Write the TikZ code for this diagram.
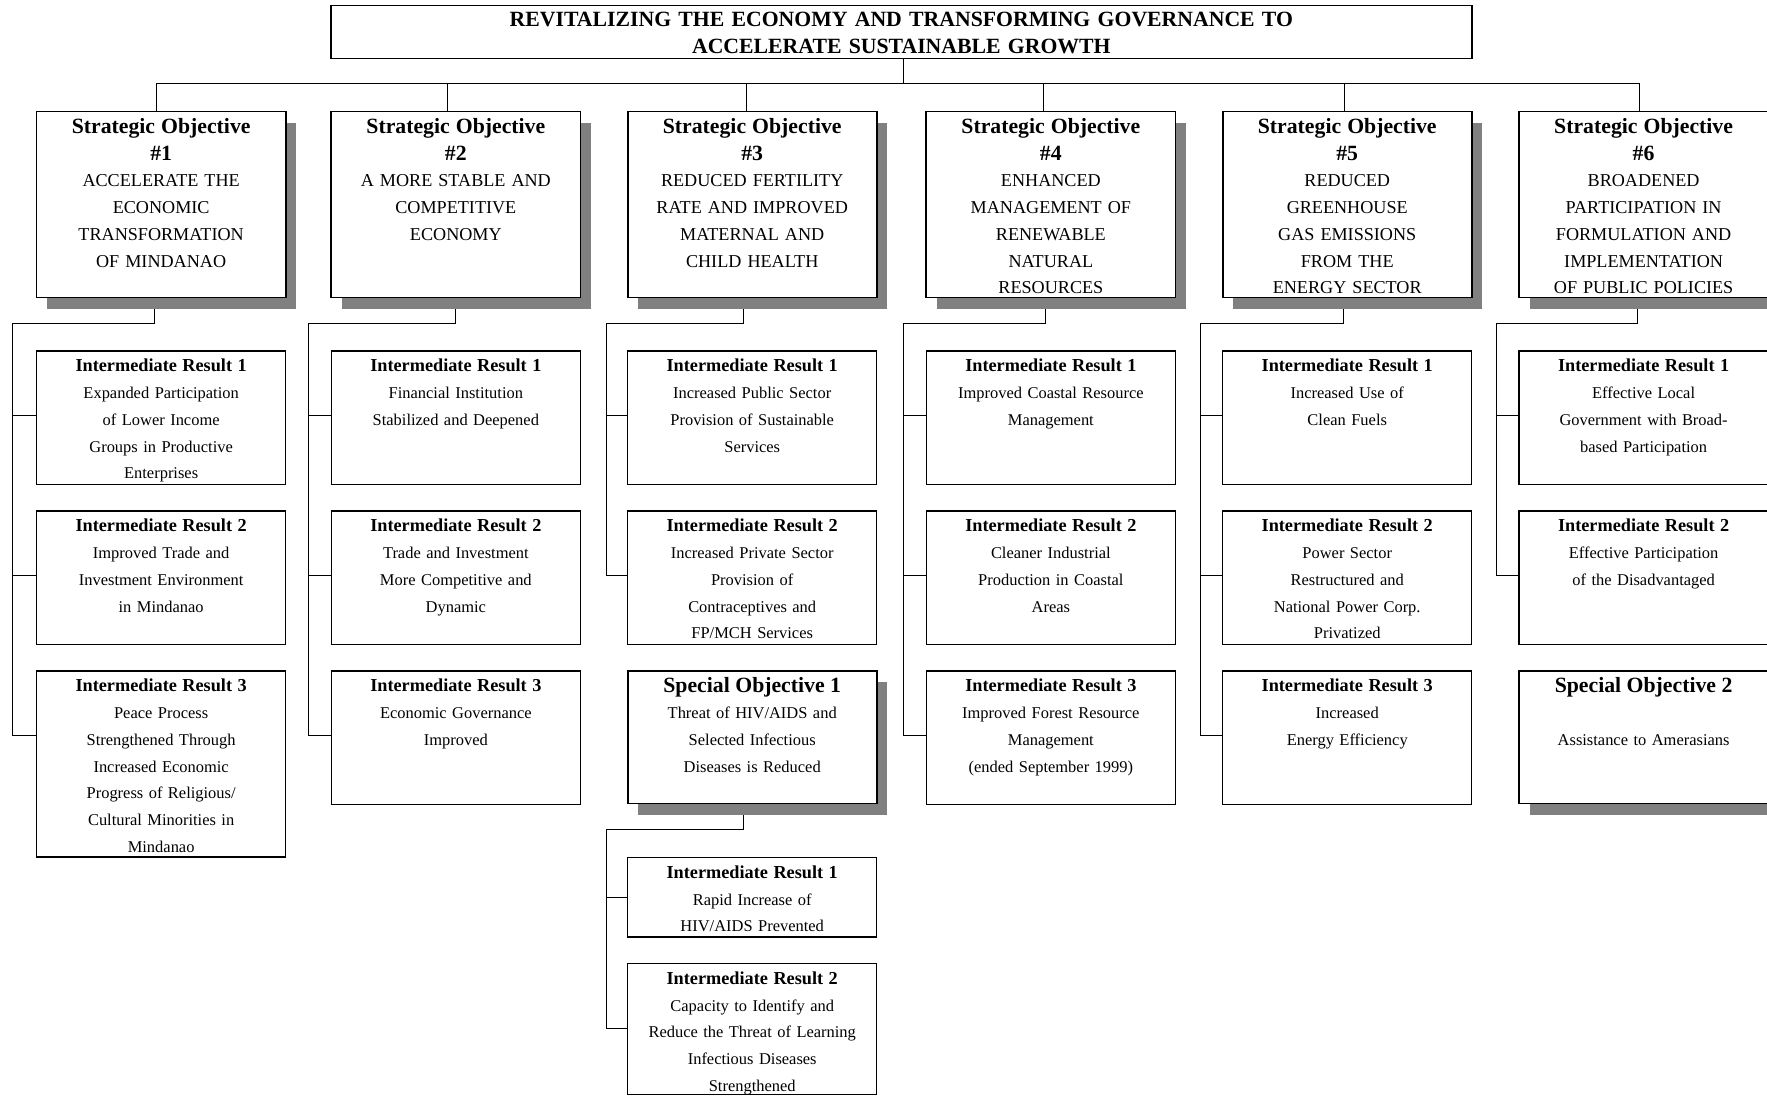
\documentclass[tikz,border=0pt]{standalone}
\usepackage{fontspec}
\setmainfont{Liberation Serif}
\usetikzlibrary{shadows}
\pgfdeclarelayer{background}
\pgfsetlayers{background,main}
\definecolor{shade}{HTML}{808080}
\newcommand\firstln{\rule{0pt}{14pt}}
\newcommand\hdA[1]{{\fontsize{19.3}{23.7}\selectfont\bfseries #1}}
\newcommand\hdB[1]{{\fontsize{16.2}{23.7}\selectfont\bfseries #1}}
\tikzset{
  box/.style={draw, fill=white, inner sep=0pt, outer sep=0pt, anchor=north west},
  sobox/.style={box, line width=1.5pt, minimum width=221pt,
    drop shadow={shadow xshift=9.5pt, shadow yshift=-10pt, fill=shade, opacity=1}},
  irbox/.style={box, line width=1.2pt, minimum width=221pt},
  txt/.style={anchor=north, inner sep=0pt, outer sep=0pt, align=center, text width=215pt,
    font=\fontsize{14.6}{23.7}\selectfont},
  sotxt/.style={txt, font=\fontsize{16.1}{23.7}\selectfont},
  conn/.style={line width=0.9pt},
}
\begin{document}
\begin{tikzpicture}[x=1pt,y=-1pt]
\begin{pgfonlayer}{background}
\fill[white] (0,0) rectangle (1568,973);
\end{pgfonlayer}
\useasboundingbox (0,0) rectangle (1568,973);

% title
\node[box, line width=1.5pt, minimum width=1012.3pt, minimum height=46.8pt] (title) at (293.7,5) {};
\node[txt, text width=1000pt, font=\fontsize{19.3}{23.7}\selectfont\bfseries] (titlet) at ([yshift=-4.4pt]title.north)
  {\firstln REVITALIZING THE ECONOMY AND TRANSFORMING GOVERNANCE TO\\ACCELERATE SUSTAINABLE GROWTH};

% strategic objectives
\node[sobox, minimum height=165pt] (so1) at (32.5,99) {};
\node[sobox, minimum height=165pt] (so2) at (294,99) {};
\node[sobox, minimum height=165pt] (so3) at (557,99) {};
\node[sobox, minimum height=165pt] (so4) at (822,99) {};
\node[sobox, minimum height=165pt] (so5) at (1085,99) {};
\node[sobox, minimum height=165pt] (so6) at (1348,99) {};

\node[sotxt] (so1t) at ([yshift=-5.5pt]so1.north) {\firstln\hdA{Strategic Objective}\\\hdA{\#1}\\ACCELERATE THE\\ECONOMIC\\TRANSFORMATION\\OF MINDANAO};
\node[sotxt] (so2t) at ([yshift=-5.5pt]so2.north) {\firstln\hdA{Strategic Objective}\\\hdA{\#2}\\A MORE STABLE AND\\COMPETITIVE\\ECONOMY};
\node[sotxt] (so3t) at ([yshift=-5.5pt]so3.north) {\firstln\hdA{Strategic Objective}\\\hdA{\#3}\\REDUCED FERTILITY\\RATE AND IMPROVED\\MATERNAL AND\\CHILD HEALTH};
\node[sotxt] (so4t) at ([yshift=-5.5pt]so4.north) {\firstln\hdA{Strategic Objective}\\\hdA{\#4}\\ENHANCED\\MANAGEMENT OF\\RENEWABLE\\NATURAL\\RESOURCES};
\node[sotxt] (so5t) at ([yshift=-5.5pt]so5.north) {\firstln\hdA{Strategic Objective}\\\hdA{\#5}\\REDUCED\\GREENHOUSE\\GAS EMISSIONS\\FROM THE\\ENERGY SECTOR};
\node[sotxt] (so6t) at ([yshift=-5.5pt]so6.north) {\firstln\hdA{Strategic Objective}\\\hdA{\#6}\\BROADENED\\PARTICIPATION IN\\FORMULATION AND\\IMPLEMENTATION\\OF PUBLIC POLICIES};

% column 1
\node[irbox, minimum height=118.5pt] (ir11) at (32.5,311.5) {};
\node[irbox, minimum height=118.5pt] (ir12) at (32.5,453.5) {};
\node[irbox, minimum height=165pt] (ir13) at (32.5,595.5) {};
\node[txt] (ir11t) at ([yshift=-4.5pt]ir11.north) {\firstln\hdB{Intermediate Result 1}\\Expanded Participation\\of Lower Income\\Groups in Productive\\Enterprises};
\node[txt] (ir12t) at ([yshift=-4.5pt]ir12.north) {\firstln\hdB{Intermediate Result 2}\\Improved Trade and\\Investment Environment\\in Mindanao};
\node[txt] (ir13t) at ([yshift=-4.5pt]ir13.north) {\firstln\hdB{Intermediate Result 3}\\Peace Process\\Strengthened Through\\Increased Economic\\Progress of Religious/\\Cultural Minorities in\\Mindanao};

% column 2
\node[irbox, minimum height=118.5pt] (ir21) at (294,311.5) {};
\node[irbox, minimum height=118.5pt] (ir22) at (294,453.5) {};
\node[irbox, minimum height=118.5pt] (ir23) at (294,595.5) {};
\node[txt] (ir21t) at ([yshift=-4.5pt]ir21.north) {\firstln\hdB{Intermediate Result 1}\\Financial Institution\\Stabilized and Deepened};
\node[txt] (ir22t) at ([yshift=-4.5pt]ir22.north) {\firstln\hdB{Intermediate Result 2}\\Trade and Investment\\More Competitive and\\Dynamic};
\node[txt] (ir23t) at ([yshift=-4.5pt]ir23.north) {\firstln\hdB{Intermediate Result 3}\\Economic Governance\\Improved};

% column 3
\node[irbox, minimum height=118.5pt] (ir31) at (557,311.5) {};
\node[irbox, minimum height=118.5pt] (ir32) at (557,453.5) {};
\node[sobox, minimum height=117.5pt] (sp1) at (557,595.5) {};
\node[irbox, minimum height=70.5pt] (s31) at (557,761) {};
\node[irbox, minimum height=116.5pt] (s32) at (557,855) {};
\node[txt] (ir31t) at ([yshift=-4.5pt]ir31.north) {\firstln\hdB{Intermediate Result 1}\\Increased Public Sector\\Provision of Sustainable\\Services};
\node[txt] (ir32t) at ([yshift=-4.5pt]ir32.north) {\firstln\hdB{Intermediate Result 2}\\Increased Private Sector\\Provision of\\Contraceptives and\\FP/MCH Services};
\node[txt] (sp1t) at ([yshift=-4.7pt]sp1.north) {\firstln\hdA{Special Objective 1}\\Threat of HIV/AIDS and\\Selected Infectious\\Diseases is Reduced};
\node[txt] (s31t) at ([yshift=-4.5pt]s31.north) {\firstln\hdB{Intermediate Result 1}\\Rapid Increase of\\HIV/AIDS Prevented};
\node[txt] (s32t) at ([yshift=-4.5pt]s32.north) {\firstln\hdB{Intermediate Result 2}\\Capacity to Identify and\\Reduce the Threat of Learning\\Infectious Diseases\\Strengthened};

% column 4
\node[irbox, minimum height=118.5pt] (ir41) at (822,311.5) {};
\node[irbox, minimum height=118.5pt] (ir42) at (822,453.5) {};
\node[irbox, minimum height=118.5pt] (ir43) at (822,595.5) {};
\node[txt] (ir41t) at ([yshift=-4.5pt]ir41.north) {\firstln\hdB{Intermediate Result 1}\\Improved Coastal Resource\\Management};
\node[txt] (ir42t) at ([yshift=-4.5pt]ir42.north) {\firstln\hdB{Intermediate Result 2}\\Cleaner Industrial\\Production in Coastal\\Areas};
\node[txt] (ir43t) at ([yshift=-4.5pt]ir43.north) {\firstln\hdB{Intermediate Result 3}\\Improved Forest Resource\\Management\\(ended September 1999)};

% column 5
\node[irbox, minimum height=118.5pt] (ir51) at (1085,311.5) {};
\node[irbox, minimum height=118.5pt] (ir52) at (1085,453.5) {};
\node[irbox, minimum height=118.5pt] (ir53) at (1085,595.5) {};
\node[txt] (ir51t) at ([yshift=-4.5pt]ir51.north) {\firstln\hdB{Intermediate Result 1}\\Increased Use of\\Clean Fuels};
\node[txt] (ir52t) at ([yshift=-4.5pt]ir52.north) {\firstln\hdB{Intermediate Result 2}\\Power Sector\\Restructured and\\National Power Corp.\\Privatized};
\node[txt] (ir53t) at ([yshift=-4.5pt]ir53.north) {\firstln\hdB{Intermediate Result 3}\\Increased\\Energy Efficiency};

% column 6
\node[irbox, minimum height=118.5pt] (ir61) at (1348,311.5) {};
\node[irbox, minimum height=118.5pt] (ir62) at (1348,453.5) {};
\node[sobox, minimum height=117.5pt] (sp2) at (1348,595.5) {};
\node[txt] (ir61t) at ([yshift=-4.5pt]ir61.north) {\firstln\hdB{Intermediate Result 1}\\Effective Local\\Government with Broad-\\based Participation};
\node[txt] (ir62t) at ([yshift=-4.5pt]ir62.north) {\firstln\hdB{Intermediate Result 2}\\Effective Participation\\of the Disadvantaged};
\node[txt] (sp2t) at ([yshift=-4.7pt]sp2.north) {\firstln\hdA{Special Objective 2}\\[23.7pt]Assistance to Amerasians};

% connectors
\begin{pgfonlayer}{background}
\coordinate (bus) at (801.6,74.5);
\draw[conn] (title.south -| bus) -- (bus);
\draw[conn] ([xshift=-4pt]so1.north) |- (bus);
\draw[conn] ([xshift=-7.5pt]so2.north) |- (bus);
\draw[conn] ([xshift=-5.5pt]so3.north) |- (bus);
\draw[conn] ([xshift=-6.5pt]so4.north) |- (bus);
\draw[conn] ([xshift=-2.5pt]so5.north) |- (bus);
\draw[conn] ([xshift=-3.5pt]so6.north) |- (bus);

\coordinate (v1) at (11,287);
\coordinate (v2) at (274,287);
\coordinate (v3) at (538,287);
\coordinate (v4) at (802,287);
\coordinate (v5) at (1065,287);
\coordinate (v6) at (1328,287);
\coordinate (v7) at (538,736.5);
\draw[conn] ([xshift=-6.3pt]so1.south) |- (v1);
\draw[conn] ([xshift=-0.5pt]so2.south) |- (v2);
\draw[conn] ([xshift=-7.5pt]so3.south) |- (v3);
\draw[conn] ([xshift=-4.5pt]so4.south) |- (v4);
\draw[conn] ([xshift=-3.5pt]so5.south) |- (v5);
\draw[conn] ([xshift=-5.5pt]so6.south) |- (v6);
\draw[conn] ([xshift=-7.5pt]sp1.south) |- (v7);
\foreach \b in {ir11,ir12,ir13} \draw[conn] (v1) |- ([yshift=-57.5pt]\b.north west);
\foreach \b in {ir21,ir22,ir23} \draw[conn] (v2) |- ([yshift=-57.5pt]\b.north west);
\foreach \b in {ir31,ir32} \draw[conn] (v3) |- ([yshift=-57.5pt]\b.north west);
\foreach \b in {ir41,ir42,ir43} \draw[conn] (v4) |- ([yshift=-57.5pt]\b.north west);
\foreach \b in {ir51,ir52,ir53} \draw[conn] (v5) |- ([yshift=-57.5pt]\b.north west);
\foreach \b in {ir61,ir62} \draw[conn] (v6) |- ([yshift=-57.5pt]\b.north west);
\draw[conn] (v7) |- (s31.west);
\draw[conn] (v7) |- ([yshift=-57.5pt]s32.north west);
\end{pgfonlayer}
\end{tikzpicture}
\end{document}
